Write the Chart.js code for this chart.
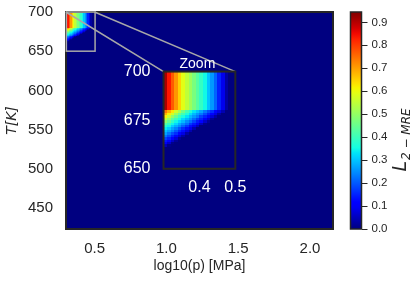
<!DOCTYPE html>
<html>
<head>
<meta charset="utf-8">
<script src="https://cdn.jsdelivr.net/npm/chart.js@4.4.0/dist/chart.umd.min.js"></script>
<style>
    body { margin: 0; background: #fff; }
    .wrap { position: relative; width: 420px; height: 281px; }
    .wrap canvas { position: absolute; left: 0; top: 0; }
</style>
</head>
<body>
<div class="wrap">
    <canvas id="mainChart" width="420" height="281"></canvas>
    <canvas id="zoomChart" width="420" height="281"></canvas>
    <canvas id="cbarChart" width="420" height="281"></canvas>
</div>
<script>
// ---- axes ranges / ticks
const pRange = [0.301, 2.16];
const tRange = [423.15, 700];
const xTicks = [0.5, 1.0, 1.5, 2.0];
const yTicks = [450, 500, 550, 600, 650, 700];

// zoomed region and where the zoom axes sits (main data coords)
const zoomP = [0.3, 0.5];
const zoomT = [650, 700];
const zoomXTicks = [0.4, 0.5];
const zoomYTicks = [650, 675, 700];
const insetP = [0.98, 1.48];
const insetT = [500, 624];

const cbarMax = 0.945;
const cbarTicks = [0, 0.1, 0.2, 0.3, 0.4, 0.5, 0.6, 0.7, 0.8, 0.9];

// ---- error grid (everything outside is 0)
const pEdges = [0.30, 0.31, 0.32, 0.33, 0.34, 0.35, 0.36, 0.37, 0.38, 0.39, 0.40, 0.41, 0.42, 0.43, 0.44, 0.45, 0.46, 0.47, 0.48];
const tEdges = [700, 680, 678.75, 677.5, 676.25, 675, 673.75, 672.5, 671.25, 670, 668.75, 667.5, 666.25, 665, 663.75, 662.5, 661.25];

// 680-700 K band, same in every row
const bandErr = [0.91, 0.84, 0.77, 0.71, 0.65, 0.59, 0.55, 0.51, 0.47, 0.43, 0.39, 0.35, 0.30, 0.26, 0.21, 0.15, 0.09, 0.03];
// below 680 K
const errA = [0.74, 0.68, 0.63, 0.57, 0.52, 0.46, 0.41, 0.37, 0.33, 0.30, 0.27, 0.23, 0.19, 0.16, 0.12, 0.08, 0.04];
const errB = [0.68, 0.62, 0.57, 0.51, 0.45, 0.41, 0.37, 0.33, 0.29, 0.26, 0.23, 0.19, 0.15, 0.12, 0.08, 0.03];
const errC = [0.62, 0.56, 0.50, 0.45, 0.40, 0.36, 0.33, 0.29, 0.26, 0.23, 0.18, 0.15, 0.12, 0.07, 0.03];
const errD = [0.55, 0.50, 0.44, 0.40, 0.36, 0.32, 0.29, 0.26, 0.22, 0.18, 0.15, 0.11, 0.07, 0.02];
const errE = [0.49, 0.44, 0.39, 0.35, 0.32, 0.29, 0.25, 0.22, 0.18, 0.14, 0.11, 0.06, 0.02];
const errF = [0.43, 0.39, 0.35, 0.32, 0.28, 0.25, 0.22, 0.17, 0.14, 0.10, 0.05, 0.01];
const errG = [0.38, 0.35, 0.31, 0.28, 0.25, 0.21, 0.17, 0.13, 0.09, 0.05];
const errH = [0.34, 0.31, 0.27, 0.24, 0.20, 0.16, 0.13, 0.09, 0.04];
const errI = [0.30, 0.27, 0.24, 0.20, 0.16, 0.13, 0.08, 0.04];
const errJ = [0.27, 0.23, 0.19, 0.16, 0.12, 0.08, 0.03];
const errK = [0.23, 0.19, 0.15, 0.12, 0.07, 0.03];
const errL = [0.18, 0.15, 0.11, 0.07, 0.02];
const errM = [0.14, 0.11, 0.06, 0.02];
const errN = [0.10, 0.06, 0.01];
const errO = [0.05, 0.01];
const errRows = [bandErr, errA, errB, errC, errD, errE, errF, errG, errH, errI, errJ, errK, errL, errM, errN, errO];

const ink = "#262626";
const sans = "'Liberation Sans', Arial, sans-serif";
const hidden = "rgba(0,0,0,0)";

// matplotlib jet
const jetR = [[0, 0], [0.35, 0], [0.66, 1], [0.89, 1], [1, 0.5]];
const jetG = [[0, 0], [0.125, 0], [0.375, 1], [0.64, 1], [0.91, 0], [1, 0]];
const jetB = [[0, 0.5], [0.11, 1], [0.34, 1], [0.65, 0], [1, 0]];
function seg(pts, t) {
    for (let i = 1; i < pts.length; i++) {
        if (t <= pts[i][0]) {
            const [a, va] = pts[i - 1], [b, vb] = pts[i];
            return va + (vb - va) * (t - a) / (b - a);
        }
    }
    return pts[pts.length - 1][1];
}
function jet(t) {
    t = Math.min(1, Math.max(0, t));
    return `rgb(${Math.round(seg(jetR, t) * 255)},${Math.round(seg(jetG, t) * 255)},${Math.round(seg(jetB, t) * 255)})`;
}

const heatmap = {
    id: "heatmap",
    beforeDatasetsDraw(chart) {
        const { ctx, chartArea: a, scales: { x, y } } = chart;
        ctx.save();
        ctx.beginPath();
        ctx.rect(a.left, a.top, a.width, a.height);
        ctx.clip();
        ctx.fillStyle = jet(0);
        ctx.fillRect(a.left, a.top, a.width, a.height);
        errRows.forEach((row, r) => {
            const y0 = Math.round(y.getPixelForValue(tEdges[r]));
            const y1 = Math.round(y.getPixelForValue(tEdges[r + 1]));
            if (y1 <= y0) return;
            row.forEach((v, c) => {
                if (!v) return;
                const x0 = Math.round(x.getPixelForValue(pEdges[c]));
                const x1 = Math.round(x.getPixelForValue(pEdges[c + 1]));
                ctx.fillStyle = jet(v / cbarMax);
                ctx.fillRect(x0, y0, x1 - x0, y1 - y0);
            });
        });
        ctx.restore();
    }
};

const frame = {
    id: "frame",
    afterDraw(chart) {
        const { ctx, chartArea: a } = chart;
        ctx.save();
        ctx.strokeStyle = ink;
        ctx.lineWidth = 2;
        ctx.strokeRect(a.left, a.top, a.width, a.height);
        ctx.restore();
    }
};

function fixedTicks(vals) {
    return s => { s.ticks = vals.map(v => ({ value: v })); };
}
// invisible tick marks, so the label gap does not grow the axis padding
function gapGrid(len) {
    return { drawOnChartArea: false, color: hidden, tickLength: len };
}

// ---- main map
const mainChart = new Chart(document.getElementById("mainChart"), {
    type: "scatter",
    data: { datasets: [{ data: [] }] },
    options: {
        responsive: false,
        animation: false,
        events: [],
        layout: { padding: { top: 12, right: 87, left: 0, bottom: 0 } },
        plugins: { legend: { display: false }, tooltip: { enabled: false } },
        scales: {
            x: {
                type: "linear", min: pRange[0], max: pRange[1],
                afterBuildTicks: fixedTicks(xTicks),
                afterFit: s => { s.height = 52; },
                grid: gapGrid(8),
                border: { display: false },
                ticks: { color: ink, font: { family: sans, size: 15 }, padding: 3, callback: v => v.toFixed(1) },
                title: { display: true, text: "log10(p) [MPa]", color: ink, font: { family: sans, size: 14 }, padding: { top: 0, bottom: 6 } }
            },
            y: {
                type: "linear", min: tRange[0], max: tRange[1],
                afterBuildTicks: fixedTicks(yTicks),
                afterFit: s => { s.width = 66; },
                grid: gapGrid(10),
                border: { display: false },
                ticks: { color: ink, font: { family: sans, size: 15 }, padding: 3 },
                title: { display: true, text: "T[K]", color: ink, font: { family: "'DejaVu Sans', sans-serif", size: 14, style: "italic" }, padding: { top: 4, bottom: 0 } }
            }
        }
    },
    plugins: [heatmap, frame, {
        id: "zoomMark",
        afterDraw(chart) {
            const { ctx, scales: { x, y } } = chart;
            const rx0 = x.getPixelForValue(zoomP[0]), rx1 = x.getPixelForValue(zoomP[1]);
            const ry0 = y.getPixelForValue(zoomT[1]), ry1 = y.getPixelForValue(zoomT[0]);
            const ix0 = x.getPixelForValue(insetP[0]), ix1 = x.getPixelForValue(insetP[1]);
            const iy0 = y.getPixelForValue(insetT[1]);
            ctx.save();
            ctx.strokeStyle = "#a8a8a8";
            ctx.lineWidth = 1.5;
            ctx.strokeRect(rx0 + 0.5, ry0, rx1 - rx0, ry1 - ry0);
            ctx.beginPath();
            ctx.moveTo(rx0, ry0); ctx.lineTo(ix0, iy0);
            ctx.moveTo(rx1, ry0); ctx.lineTo(ix1, iy0);
            ctx.stroke();
            ctx.restore();
        }
    }]
});

// ---- zoom axes, placed at insetP/insetT of the main map
const mx = mainChart.scales.x, my = mainChart.scales.y;
const boxL = mx.getPixelForValue(insetP[0]), boxR = mx.getPixelForValue(insetP[1]);
const boxT = my.getPixelForValue(insetT[1]), boxB = my.getPixelForValue(insetT[0]);

new Chart(document.getElementById("zoomChart"), {
    type: "scatter",
    data: { datasets: [{ data: [] }] },
    options: {
        responsive: false,
        animation: false,
        events: [],
        layout: { padding: { left: boxL - 40, right: 420 - boxR, top: boxT, bottom: 281 - boxB - 30 } },
        plugins: { legend: { display: false }, tooltip: { enabled: false } },
        scales: {
            x: {
                type: "linear", min: zoomP[0], max: zoomP[1],
                afterBuildTicks: fixedTicks(zoomXTicks),
                afterFit: s => { s.height = 30; },
                grid: gapGrid(6),
                border: { display: false },
                ticks: { color: "#fff", font: { family: sans, size: 16 }, padding: 3, callback: v => v.toFixed(1) }
            },
            y: {
                type: "linear", min: zoomT[0], max: zoomT[1],
                afterBuildTicks: fixedTicks(zoomYTicks),
                afterFit: s => { s.width = 40; },
                grid: gapGrid(10),
                border: { display: false },
                ticks: { color: "#fff", font: { family: sans, size: 16 }, padding: 3 }
            }
        }
    },
    plugins: [heatmap, frame, {
        id: "zoomTitle",
        afterDraw(chart) {
            const { ctx, chartArea: a } = chart;
            ctx.save();
            ctx.fillStyle = "#fff";
            ctx.font = `14px ${sans}`;
            ctx.textAlign = "center";
            ctx.textBaseline = "alphabetic";
            ctx.fillText("Zoom", (a.left + a.right) / 2 - 2, a.top - 4);
            ctx.restore();
        }
    }]
});

// ---- colour bar
const mainArea = mainChart.chartArea;
const barL = mainArea.right + 17.5, barR = barL + 11;

new Chart(document.getElementById("cbarChart"), {
    type: "scatter",
    data: { datasets: [{ data: [] }] },
    options: {
        responsive: false,
        animation: false,
        events: [],
        layout: { padding: { left: barL, right: 420 - barR - 40, top: mainArea.top, bottom: 281 - mainArea.bottom } },
        plugins: { legend: { display: false }, tooltip: { enabled: false } },
        scales: {
            x: { type: "linear", min: 0, max: 1, display: false },
            y: {
                type: "linear", position: "right", min: 0, max: cbarMax,
                afterBuildTicks: fixedTicks(cbarTicks),
                afterFit: s => { s.width = 40; },
                grid: { drawOnChartArea: false, drawTicks: true, tickLength: 6, color: ink, lineWidth: 1 },
                border: { display: false },
                ticks: { color: ink, font: { family: sans, size: 11.5 }, padding: 4, callback: v => v.toFixed(1) }
            }
        }
    },
    plugins: [{
        id: "cbar",
        beforeDatasetsDraw(chart) {
            const { ctx, chartArea: a, scales: { y } } = chart;
            const g = ctx.createLinearGradient(0, y.getPixelForValue(0), 0, y.getPixelForValue(cbarMax));
            for (let i = 0; i <= 40; i++) g.addColorStop(i / 40, jet(i / 40));
            ctx.save();
            ctx.fillStyle = g;
            ctx.fillRect(a.left, a.top, a.width, a.height);
            ctx.strokeStyle = ink;
            ctx.lineWidth = 1.5;
            ctx.strokeRect(a.left, a.top, a.width, a.height);
            ctx.restore();
        },
        afterDraw(chart) {
            const { ctx, chartArea: a } = chart;
            const big = "italic 19px 'DejaVu Sans', sans-serif";
            const small = "italic 12px 'DejaVu Sans', sans-serif";
            ctx.save();
            ctx.font = big;
            const wL = ctx.measureText("L").width;
            ctx.font = small;
            const wS = ctx.measureText("2 − MRE").width;
            ctx.translate(406, (a.top + a.bottom) / 2 + 20);
            ctx.rotate(-Math.PI / 2);
            ctx.fillStyle = ink;
            ctx.textBaseline = "alphabetic";
            ctx.textAlign = "left";
            const start = -(wL + wS) / 2;
            ctx.font = big;
            ctx.fillText("L", start, 0);
            ctx.font = small;
            ctx.fillText("2 − MRE", start + wL + 1, 4);
            ctx.restore();
        }
    }]
});
</script>
</body>
</html>
